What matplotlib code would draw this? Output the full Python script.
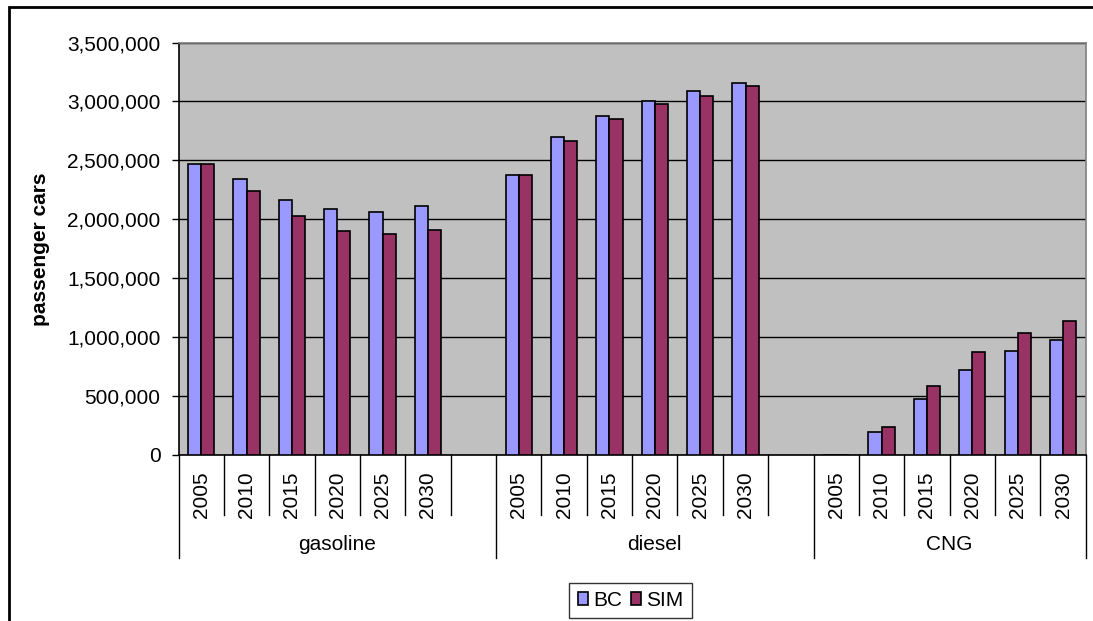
import matplotlib
matplotlib.use("Agg")
import matplotlib.pyplot as plt
from matplotlib.ticker import StrMethodFormatter, MultipleLocator
from matplotlib.patches import Rectangle
import matplotlib.transforms as mtransforms

plt.rcParams['font.family'] = ['Liberation Sans', 'DejaVu Sans']

# Fuel groups and model years
groups = ["gasoline", "diesel", "CNG"]
years = ["2005", "2010", "2015", "2020", "2025", "2030"]

# Passenger car stock: base case (BC) and simulation (SIM)
bc_gasoline = [2470000, 2340000, 2160000, 2090000, 2064000, 2109000]
sim_gasoline = [2470000, 2240000, 2024000, 1900000, 1871000, 1911000]
bc_diesel = [2372000, 2694000, 2875000, 3003000, 3085000, 3154000]
sim_diesel = [2372000, 2665000, 2849000, 2974000, 3046000, 3128000]
bc_cng = [0, 192000, 472000, 720000, 884000, 980000]
sim_cng = [0, 234000, 582000, 873000, 1037000, 1133000]

bc_by_group = [bc_gasoline, bc_diesel, bc_cng]
sim_by_group = [sim_gasoline, sim_diesel, sim_cng]

# Each group takes its years plus one blank slot (except the last group)
slots_per_group = [len(years) + 1, len(years) + 1, len(years)]

fig = plt.figure(figsize=(10.93, 6.21), dpi=100)
ax = fig.add_axes([178.5 / 1093, 1 - 455 / 621, (1085.7 - 178.5) / 1093, (455 - 42.5) / 621])

ax.set_facecolor("#C0C0C0")
bar_w = 0.29
c_bc = "#9999FF"
c_sim = "#993366"

start = 0
group_bounds = [0]
for g, (bc, sim) in enumerate(zip(bc_by_group, sim_by_group)):
    xs = [start + i for i in range(len(years))]
    ax.bar([x - bar_w / 2 for x in xs], bc, width=bar_w, color=c_bc,
           edgecolor="black", linewidth=1.2, zorder=3,
           label="BC" if g == 0 else None)
    ax.bar([x + bar_w / 2 for x in xs], sim, width=bar_w, color=c_sim,
           edgecolor="black", linewidth=1.2, zorder=3,
           label="SIM" if g == 0 else None)
    start += slots_per_group[g]
    group_bounds.append(start)

n_slots = start
ax.set_xlim(-0.5, n_slots - 0.5)
ax.set_ylim(0, 3500000)
ax.yaxis.set_major_locator(MultipleLocator(500000))
ax.yaxis.set_major_formatter(StrMethodFormatter("{x:,.0f}"))
ax.yaxis.grid(True, color="black", linewidth=1.0, zorder=1)
ax.set_axisbelow(True)

ax.set_xticks([])
ax.tick_params(axis="y", direction="out", length=5, width=1, pad=8,
               labelsize=15, colors="black")

for side in ("top", "right"):
    ax.spines[side].set_color("#808080")
    ax.spines[side].set_linewidth(1.2)
for side in ("left", "bottom"):
    ax.spines[side].set_color("black")
    ax.spines[side].set_linewidth(1.2)

ax.set_ylabel("passenger cars", fontsize=15, fontweight="bold", labelpad=12)

# Two-level category axis: year labels and fuel group labels
trans = mtransforms.blended_transform_factory(ax.transData, ax.transAxes)
short_depth = -0.1455
long_depth = -0.25
for k in range(n_slots + 1):
    depth = long_depth if k in group_bounds else short_depth
    ax.plot([k - 0.5, k - 0.5], [0, depth], transform=trans, color="black",
            linewidth=1.0, clip_on=False, zorder=4)

for g, name in enumerate(groups):
    g0 = group_bounds[g]
    for i, yr in enumerate(years):
        ax.text(g0 + i, -0.04, yr, transform=trans, rotation=90,
                ha="center", va="top", fontsize=15)
    g1 = group_bounds[g + 1]
    ax.text((g0 + g1 - 1) / 2, -0.218, name, transform=trans,
            ha="center", va="center", fontsize=15)

leg = fig.legend(loc="center", bbox_to_anchor=(630.5 / 1093, 1 - 600.5 / 621),
                 ncol=2, fontsize=15, frameon=True, fancybox=False,
                 handlelength=0.5, handleheight=0.55, handletextpad=0.25,
                 columnspacing=0.4, borderpad=0.4, borderaxespad=0)
leg.get_frame().set_edgecolor("black")
leg.get_frame().set_linewidth(1.0)

# Outer chart frame
fig.patches.append(Rectangle((9 / 1093, -0.05), 1.1, 1 - 7 / 621 + 0.05,
                             transform=fig.transFigure, fill=False,
                             edgecolor="black", linewidth=2.0))

fig.savefig("out.png", dpi=100, facecolor="white")
